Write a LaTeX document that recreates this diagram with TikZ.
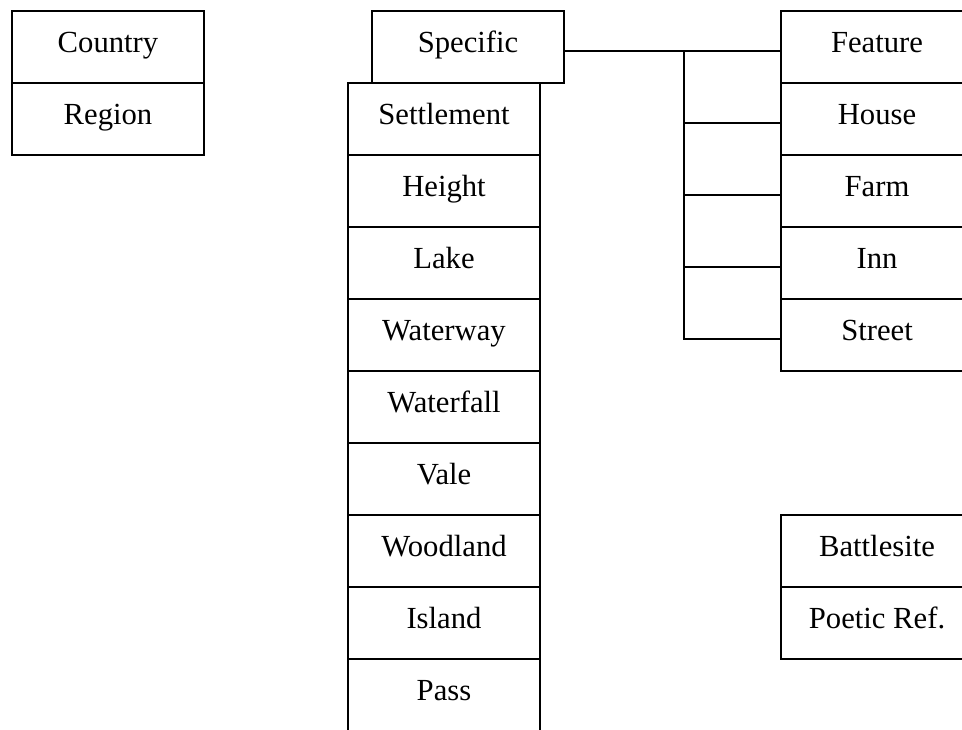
\documentclass[tikz,border=0pt]{standalone}
\usepackage{fontspec}
\setmainfont{Liberation Serif}
\begin{document}
\begin{tikzpicture}[x=0.75pt,y=-0.75pt,
  cell/.style={draw,line width=1.4pt,rectangle,minimum width=144pt,minimum height=54pt,
    inner sep=0pt,text height=14pt,text depth=6.5pt,font=\fontsize{23}{27}\selectfont},
  conn/.style={line width=1.4pt}]
\useasboundingbox (0,0) rectangle (962,729);
\clip (0,0) rectangle (962,729);
% left pair
\node[cell] (country) at (108,47) {Country};
\node[cell] (region) at (108,119) {Region};
% specific and column
\node[cell] (spec) at (468,47) {Specific};
\node[cell] (settle) at (444,119) {Settlement};
\node[cell] (height) at (444,191) {Height};
\node[cell] (lake) at (444,263) {Lake};
\node[cell] (waterway) at (444,335) {Waterway};
\node[cell] (waterfall) at (444,407) {Waterfall};
\node[cell] (vale) at (444,479) {Vale};
\node[cell] (wood) at (444,551) {Woodland};
\node[cell] (island) at (444,623) {Island};
\node[cell] (pass) at (444,695) {Pass};
% right column
\node[cell] (feat) at (877,47) {Feature};
\node[cell] (house) at (877,119) {House};
\node[cell] (farm) at (877,191) {Farm};
\node[cell] (inn) at (877,263) {Inn};
\node[cell] (street) at (877,335) {Street};
\node[cell] (battle) at (877,551) {Battlesite};
\node[cell] (poetic) at (877,623) {Poetic Ref.};
% connectors
\coordinate (j0) at (684,51);
\draw[conn] ([yshift=-3pt]spec.east) -- ([yshift=-3pt]feat.west);
\path ([yshift=-3pt]street.west) coordinate (sw);
\draw[conn] (j0) |- (sw);
\foreach \n in {house,farm,inn}{
  \path ([yshift=-3pt]\n.west) coordinate (w\n);
  \draw[conn] (w\n) -- (w\n -| j0);
}
\end{tikzpicture}
\end{document}
